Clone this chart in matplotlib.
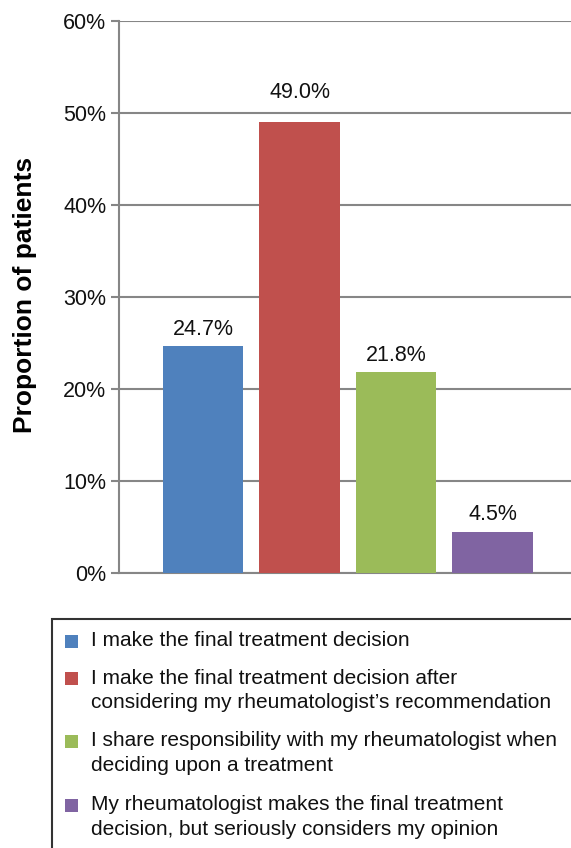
import matplotlib
matplotlib.use("Agg")
import matplotlib.pyplot as plt
from matplotlib.patches import Rectangle
from matplotlib.ticker import FuncFormatter

categories = [
    ["I make the final treatment decision"],
    ["I make the final treatment decision after",
     "considering my rheumatologist\u2019s recommendation"],
    ["I share responsibility with my rheumatologist when",
     "deciding upon a treatment"],
    ["My rheumatologist makes the final treatment",
     "decision, but seriously considers my opinion"],
]
values = [24.7, 49.0, 21.8, 4.5]
colors = ["#4F81BD", "#C0504D", "#9BBB59", "#8064A2"]
yticks = [0, 10, 20, 30, 40, 50, 60]

plt.rcParams['font.family'] = ['Liberation Sans', 'DejaVu Sans']

W, H = 571, 848
fig = plt.figure(figsize=(W / 100, H / 100), dpi=100)
ax = fig.add_axes([119 / W, 1 - 573 / H, 1 - 119 / W + 0.01, 552 / H])

x = list(range(len(values)))
ax.bar(x, values, width=0.835, color=colors, zorder=3)
label_offsets = [4.5, 13.5, 4.5, 5]
for xi, v, off in zip(x, values, label_offsets):
    ax.annotate(f"{v:.1f}%", (xi, v), xytext=(0, off), textcoords="offset points",
                ha="center", va="bottom", fontsize=15.5, color="#111111")

ax.set_ylim(0, 60)
ax.set_xlim(-0.87, 3.87)
ax.set_yticks(yticks)
ax.yaxis.set_major_formatter(FuncFormatter(lambda v, p: f"{v:.0f}%"))
ax.set_xticks([])
ax.tick_params(axis='y', direction='out', length=6, width=1.5, color="#868686",
               labelsize=15.5, pad=3, labelcolor="#111111")
ax.grid(axis='y', color="#868686", linewidth=1.5, zorder=0)
for s in ['top', 'right']:
    ax.spines[s].set_visible(False)
ax.spines['left'].set_color("#868686")
ax.spines['left'].set_linewidth(1.5)
ax.spines['bottom'].set_color("#868686")
ax.spines['bottom'].set_linewidth(1.5)
ax.set_ylabel("Proportion of patients", fontsize=19, fontweight='bold')
ax.yaxis.set_label_coords(25 / W, 1 - 295 / H, transform=fig.transFigure)
ax.yaxis.label.set_va('center')
ax.yaxis.label.set_ha('center')

# Legend box (extends past right and bottom edge like the reference)
fig.patches.append(Rectangle((52 / W, -0.05), 1.0, 1 - 619 / H + 0.05,
                             transform=fig.transFigure, fill=False,
                             edgecolor="#333333", linewidth=1.5))
first_line_y = [641, 678, 741, 805]
line_gap = 24.5
for lines, col, ly in zip(categories, colors, first_line_y):
    fig.patches.append(Rectangle((65 / W, 1 - (ly + 6.5) / H), 13 / W, 13 / H,
                                 transform=fig.transFigure, facecolor=col,
                                 edgecolor='none'))
    for i, line in enumerate(lines):
        fig.text(91 / W, 1 - (ly + i * line_gap) / H, line, ha='left', va='center',
                 fontsize=15.05, color="#111111")

fig.savefig("out.png", dpi=100)
